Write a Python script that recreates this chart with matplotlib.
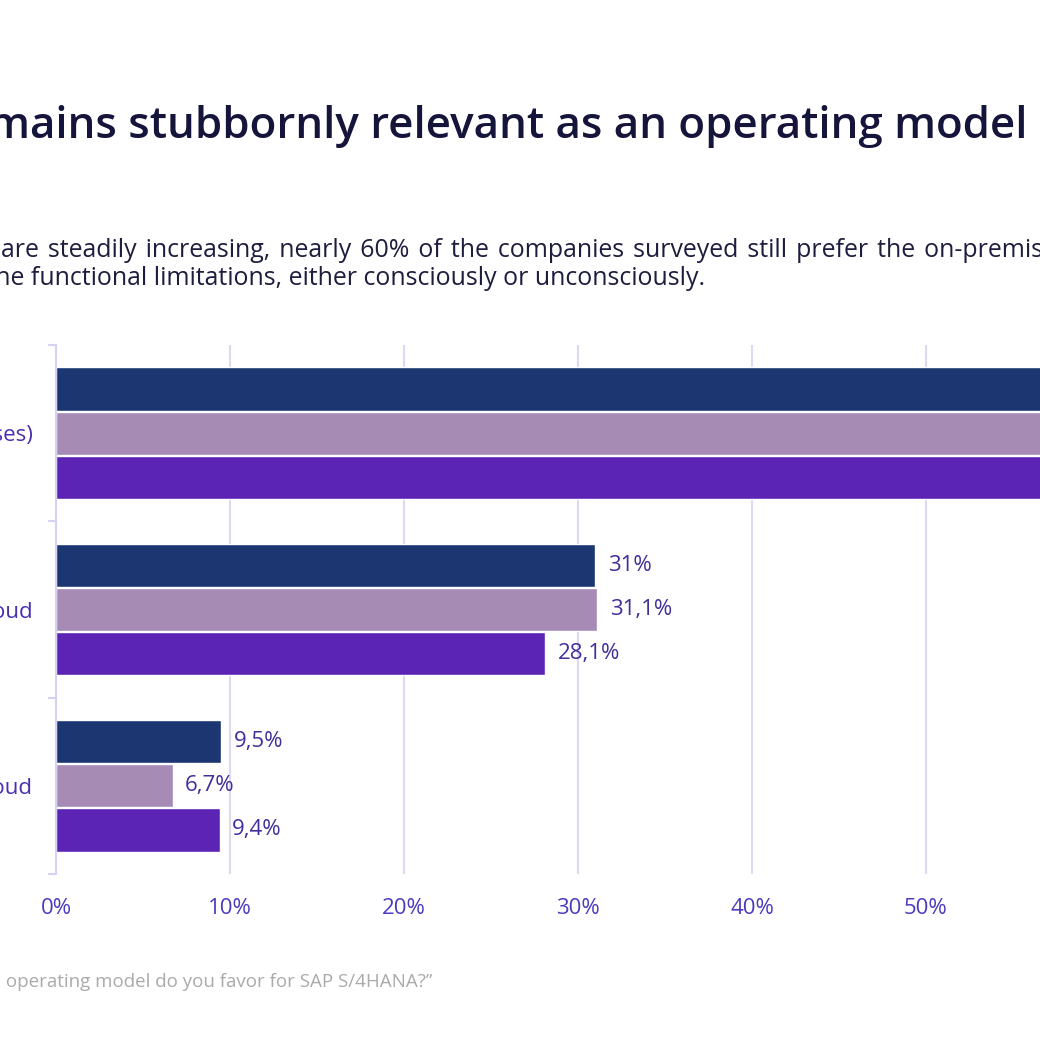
import matplotlib
matplotlib.use('Agg')  # no display
import matplotlib.pyplot as plt
import numpy as np

plt.rcParams['font.family'] = ['Open Sans', 'DejaVu Sans']

# data (first group is cut off on the right in the reference)
categories = ['On-premises (own data centre or hosting with service houses)', 'Private cloud', 'Public cloud']
series_a = [59.5, 31.0, 9.5]
series_b = [62.2, 31.1, 6.7]
series_c = [62.5, 28.1, 9.4]
series_colors = ['#1b3670', '#a68bb5', '#5b24b5']
x_ticks = [0, 10, 20, 30, 40, 50, 60, 70]
x_tick_labels = ['0%', '10%', '20%', '30%', '40%', '50%', '60%', '70%']

title = 'On-premises remains stubbornly relevant as an operating model'
subtitle_1 = 'are steadily increasing, nearly 60% of the companies surveyed still prefer the on-premises variant'
subtitle_2 = 'Although the cloud options are growing, companies thus accept the functional limitations, either consciously or unconsciously.'
footnote = 'Question: \u201cWhich operating model do you favor for SAP S/4HANA?\u201d'

W = 1040
fig = plt.figure(figsize=(10.4, 10.4), dpi=100)
fig.patch.set_facecolor('white')

# axes runs past the right edge, like the cropped reference
px_per_pct = 17.4
ax = fig.add_axes([56 / W, 1 - 874 / W, 70 * px_per_pct / W, 529 / W])

y = np.arange(len(categories))
bar_h = 0.245
for off, vals, col in zip([-0.25, 0, 0.25], [series_a, series_b, series_c], series_colors):
    ax.barh(y + off, vals, height=bar_h, color=col, edgecolor='white', linewidth=1, zorder=2)
    for yy, v in zip(y + off, vals):
        ax.annotate(f"{v:g}%".replace('.', ','), (v, yy), xytext=(9, 0), textcoords='offset points',
                    va='center', ha='left', fontsize=16, color='#3f2f9c')

ax.set_xlim(0, 70)
ax.set_ylim(2.5, -0.5)
ax.set_xticks(x_ticks)
ax.set_xticklabels(x_tick_labels)
ax.set_yticks(y)
ax.set_yticklabels(categories)
ax.set_yticks([-0.5, 0.5, 1.5, 2.5], minor=True)
ax.tick_params(axis='x', length=0, pad=17, labelsize=16, labelcolor='#4b3bbf')
ax.tick_params(axis='y', which='major', length=0, pad=17, labelsize=16, labelcolor='#4a30b0')
ax.tick_params(axis='y', which='minor', length=6, width=1.5, color='#d6d0f3')
ax.grid(axis='x', color='#dcd9f5', linewidth=1.5)
ax.set_axisbelow(True)
for s in ['top', 'right', 'bottom']:
    ax.spines[s].set_visible(False)
ax.spines['left'].set_color('#d6d0f3')
ax.spines['left'].set_linewidth(1.5)

fig.text(1027 / W, 1 - 138 / W, title, ha='right', va='baseline', fontsize=31.6,
         fontweight='semibold', color='#15143a')
# first line is justified in the reference: a hair space widens each gap a little
fig.text(1 / W, 1 - 257 / W, subtitle_1.replace(' ', ' \u200a'), ha='left', va='baseline',
         fontsize=17.9, color='#1e1d3e')
fig.text(705 / W, 1 - 285 / W, subtitle_2, ha='right', va='baseline', fontsize=17.9, color='#1e1d3e')
fig.text(432 / W, 1 - 987 / W, footnote, ha='right', va='baseline', fontsize=13.5, color='#aaaaaa')

plt.savefig('out.png', dpi=100)
plt.close()
